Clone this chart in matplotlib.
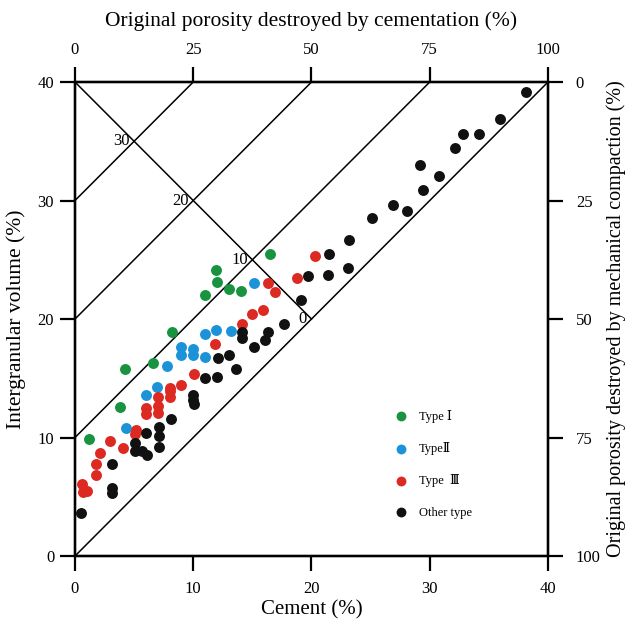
import matplotlib
matplotlib.use("Agg")
import matplotlib.pyplot as plt
import numpy as np

plt.rcParams['font.family'] = ['Liberation Serif', 'DejaVu Serif']

# 数据: (胶结物 %, 粒间体积 %)
type1_cement = [1.2, 3.8, 4.2, 6.6, 8.2, 11.0, 11.9, 12.0, 13.0, 14.0, 16.5]
type1_igv = [9.9, 12.6, 15.8, 16.3, 18.9, 22.0, 24.1, 23.1, 22.5, 22.4, 25.5]

type2_cement = [4.3, 6.0, 6.9, 7.8, 9.0, 10.0, 9.0, 10.0, 11.0, 11.0, 11.9, 13.2, 15.1]
type2_igv = [10.8, 13.6, 14.3, 16.0, 17.6, 17.5, 17.0, 17.0, 16.8, 18.7, 19.1, 19.0, 23.0]

type3_cement = [0.6, 0.7, 1.0, 1.8, 1.8, 2.1, 3.0, 4.1, 5.1, 5.2, 6.0, 6.0, 7.0, 7.0,
                7.0, 8.0, 8.0, 8.0, 9.0, 10.1, 11.8, 14.1, 15.0, 15.9, 16.3, 16.9,
                18.8, 20.3]
type3_igv = [6.1, 5.4, 5.5, 6.8, 7.8, 8.7, 9.7, 9.1, 10.3, 10.6, 12.0, 12.5, 12.1, 12.7,
             13.4, 13.4, 13.9, 14.2, 14.4, 15.4, 17.9, 19.6, 20.4, 20.8, 23.0, 22.3,
             23.5, 25.3]

other_cement = [0.5, 3.1, 3.1, 3.1, 5.1, 5.1, 5.7, 6.1, 6.0, 7.1, 7.1, 7.1, 8.1, 10.0,
                10.0, 10.1, 11.0, 12.0, 12.1, 13.0, 13.6, 14.1, 14.1, 15.1, 16.1, 16.3,
                17.7, 19.1, 19.7, 21.4, 21.5, 23.1, 23.2, 25.1, 26.9, 28.1, 29.4, 29.2,
                30.8, 32.1, 32.8, 34.2, 35.9, 38.1]
other_igv = [3.6, 7.8, 5.7, 5.3, 9.5, 8.9, 8.9, 8.5, 10.4, 10.9, 10.1, 9.2, 11.6, 13.6,
             13.2, 12.8, 15.0, 15.1, 16.7, 17.0, 15.8, 18.9, 18.4, 17.6, 18.2, 18.9,
             19.6, 21.6, 23.6, 23.7, 25.5, 24.3, 26.7, 28.5, 29.6, 29.1, 30.9, 33.0,
             32.1, 34.4, 35.6, 35.6, 36.9, 39.2]

# 参考线: y = x + b, 以及 y = 40 - x (0-20)
offsets = [0, 10, 20, 30]
porosity_labels = ['0', '10', '20', '30']
top_ticks = [0, 25, 50, 75, 100]
right_ticks = [0, 25, 50, 75, 100]
lim = 40

fig = plt.figure(figsize=(6.27, 6.2), dpi=100)
ax = fig.add_axes([0.1196, 0.1032, 0.7544, 0.7645])

lw = 1.1
for b, lab in zip(offsets, porosity_labels):
    ax.plot([0, lim - b], [b, lim], color='black', lw=lw, zorder=1)
    xi = (lim - b) / 2
    ax.text(xi - 0.4, lim - xi, lab, ha='right', va='center', fontsize=12)
ax.plot([0, lim / 2], [lim, lim / 2], color='black', lw=lw, zorder=1)

ms = 62
ax.scatter(type1_cement, type1_igv, s=ms, color='#1a9340', label='Type Ⅰ', zorder=3, linewidths=0)
ax.scatter(type2_cement, type2_igv, s=ms, color='#1c93d8', label='TypeⅡ', zorder=3, linewidths=0)
ax.scatter(type3_cement, type3_igv, s=ms, color='#dc2a23', label='Type  Ⅲ', zorder=3, linewidths=0)
ax.scatter(other_cement, other_igv, s=ms, color='#111111', label='Other type', zorder=3, linewidths=0)

ax.set_xlim(0, lim)
ax.set_ylim(0, lim)
ax.set_xticks([0, 10, 20, 30, 40])
ax.set_yticks([0, 10, 20, 30, 40])
for s in ax.spines.values():
    s.set_linewidth(1.6)
ax.tick_params(direction='out', length=11, width=1.6, labelsize=12)
ax.tick_params(axis='x', pad=7)
ax.tick_params(axis='y', pad=4)
ax.set_xlabel('Cement (%)', fontsize=15, labelpad=2)
ax.set_ylabel('Intergranular volume (%)', fontsize=15.5, labelpad=8)

# 上轴: 胶结破坏孔隙
ax_top = ax.twiny()
ax_top.set_xlim(0, 100)
ax_top.set_xticks(top_ticks)
ax_top.tick_params(direction='out', length=11, width=1.6, labelsize=12, pad=6)
ax_top.set_xlabel('Original porosity destroyed by cementation (%)', fontsize=15.5, labelpad=12)

# 右轴: 压实破坏孔隙
ax_r = ax.twinx()
ax_r.set_ylim(100, 0)
ax_r.set_yticks(right_ticks)
ax_r.tick_params(direction='out', length=11, width=1.6, labelsize=12, pad=9)
ax_r.set_ylabel('Original porosity destroyed by mechanical compaction (%)', fontsize=14.5, labelpad=4)
for a in (ax_top, ax_r):
    for s in a.spines.values():
        s.set_linewidth(1.6)

leg = ax.legend(loc='lower left', bbox_to_anchor=(0.64, 0.055), frameon=False,
                labelspacing=1.55, handletextpad=0.4, markerscale=0.9,
                prop={'family': ['Liberation Serif', 'DejaVu Serif'], 'size': 9})

fig.savefig('out.png', dpi=100)
